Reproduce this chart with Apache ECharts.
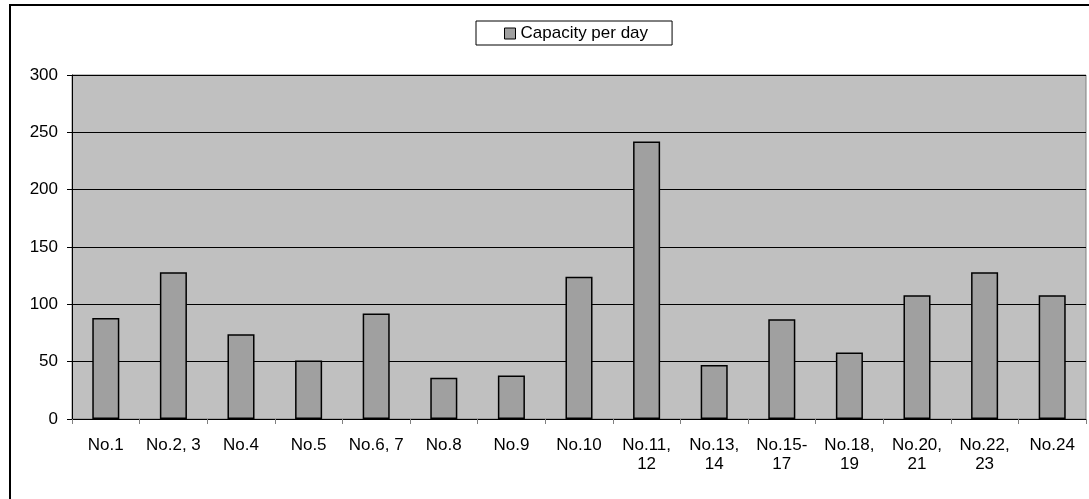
<!DOCTYPE html>
<html>
<head>
<meta charset="utf-8">
<script src="https://cdn.jsdelivr.net/npm/echarts@6/dist/echarts.min.js"></script>
<style>
  html, body { margin: 0; padding: 0; background: #fff; }
  #chart { width: 1089px; height: 499px; }
</style>
</head>
<body>
<div id="chart"></div>
<script>
// data
const categories = ['No.1', 'No.2, 3', 'No.4', 'No.5', 'No.6, 7', 'No.8', 'No.9', 'No.10',
  'No.11, 12', 'No.13, 14', 'No.15-17', 'No.18, 19', 'No.20, 21', 'No.22, 23', 'No.24']
const capacity = [88, 128, 74, 51, 92, 36, 38, 124, 242, 47, 87, 58, 108, 128, 108]
const seriesName = 'Capacity per day'

const FONT = 'Liberation Sans, Arial, sans-serif'

let myChart = echarts.init(document.getElementById('chart'))
var option = {
  backgroundColor: '#ffffff',
  animation: false,
  textStyle: { fontFamily: FONT },
  graphic: [
    {
      type: 'rect',
      shape: { x: 10, y: 5, width: 1200, height: 600 },
      style: { fill: 'none', stroke: '#000', lineWidth: 2 },
      silent: true
    }
  ],
  legend: {
    left: 476,
    top: 21,
    padding: [4, 24, 3, 28],
    borderColor: '#000',
    borderWidth: 1,
    itemWidth: 11,
    itemHeight: 11,
    itemGap: 5,
    icon: 'rect',
    itemStyle: { borderColor: '#000', borderWidth: 1 },
    textStyle: { color: '#000', fontSize: 17, fontFamily: FONT },
    data: [seriesName]
  },
  grid: {
    left: 72,
    top: 75,
    right: 3,
    bottom: 80,
    containLabel: false,
    show: true,
    backgroundColor: '#C0C0C0',
    borderColor: '#808080',
    borderWidth: 1
  },
  xAxis: {
    type: 'category',
    data: categories,
    boundaryGap: true,
    axisLine: { lineStyle: { color: '#000', width: 1 } },
    axisTick: { show: true, length: 5, lineStyle: { color: '#808080' } },
    axisLabel: {
      interval: 0,
      margin: 17,
      color: '#000',
      fontSize: 17,
      lineHeight: 19,
      fontFamily: FONT,
      // two-digit tails wrap onto a second line, as in the original
      formatter: v => v.replace(/([,-]) ?(?=\d{2})/, '$1\n')
    },
    splitLine: { show: false }
  },
  yAxis: {
    type: 'value',
    min: 0,
    max: 300,
    interval: 50,
    axisLine: { show: true, lineStyle: { color: '#000', width: 1 } },
    axisTick: { show: true, length: 5, lineStyle: { color: '#000' } },
    axisLabel: { margin: 14, color: '#000', fontSize: 17, fontFamily: FONT },
    splitLine: { show: true, lineStyle: { color: '#000', width: 1 } }
  },
  series: [
    {
      name: seriesName,
      type: 'bar',
      data: capacity,
      barWidth: '40%',
      itemStyle: {
        color: '#A0A0A0',
        borderColor: '#000',
        borderWidth: 1.5
      }
    }
  ]
}
myChart.setOption(option)
</script>
</body>
</html>
